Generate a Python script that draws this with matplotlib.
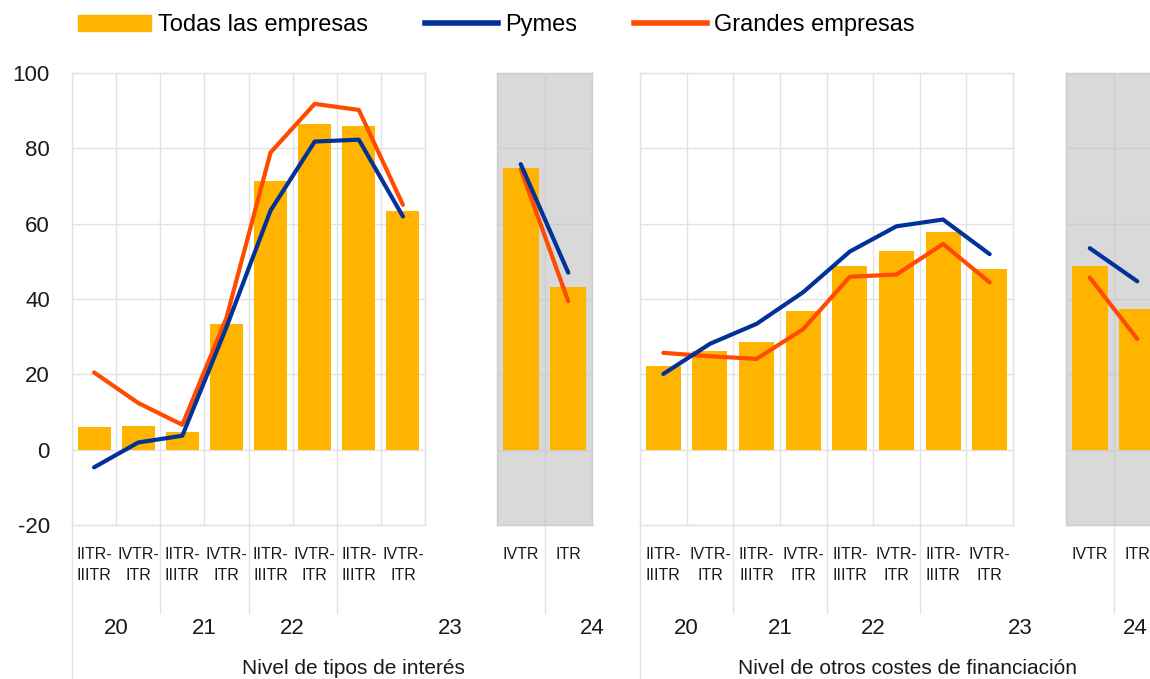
import numpy as np
import matplotlib.pyplot as plt
from matplotlib.patches import Patch
from matplotlib.lines import Line2D

plt.rcParams['font.family'] = ['Liberation Sans', 'DejaVu Sans']
plt.rcParams['axes.unicode_minus'] = False

# categorias
quarters_main = ["IITR-\nIIITR", "IVTR-\nITR"] * 4
quarters_recent = ["IVTR", "ITR"]
years_main = ["20", "21", "22"]

# nivel de tipos de interes
tipos_todas = [6.1, 6.4, 4.8, 33.4, 71.4, 86.4, 85.8, 63.4]
tipos_todas_rec = [74.9, 43.1]
tipos_pymes = [-4.7, 1.9, 3.7, 32.5, 63.5, 81.8, 82.3, 61.9]
tipos_pymes_rec = [75.8, 47.0]
tipos_grandes = [20.5, 12.4, 6.6, 35.0, 78.9, 91.8, 90.2, 65.0]
tipos_grandes_rec = [74.5, 39.4]

# nivel de otros costes de financiacion
otros_todas = [22.3, 26.3, 28.5, 36.9, 48.8, 52.8, 57.7, 48.0]
otros_todas_rec = [48.8, 37.3]
otros_pymes = [20.1, 28.1, 33.4, 41.8, 52.6, 59.3, 61.1, 51.9]
otros_pymes_rec = [53.5, 44.7]
otros_grandes = [25.7, 24.8, 24.1, 32.0, 45.9, 46.5, 54.6, 44.4]
otros_grandes_rec = [45.7, 29.4]

YELLOW = '#FFB400'
BLUE = '#003299'
ORANGE = '#FF4B00'
SHADE = '#D9D9D9'
GRID = '#E2E2E2'
TXT = '#1a1a1a'

W, H = 1150, 679
fig = plt.figure(figsize=(W / 100, H / 100), dpi=100)

top_px, bot_px = 73, 525


def px_axes(x0, x1):
    return fig.add_axes([x0 / W, 1 - bot_px / H, (x1 - x0) / W, (bot_px - top_px) / H])


def draw_group(ax, labels, todas, pymes, grandes, shaded, seps, full_sep):
    n = len(labels)
    x = np.arange(n)
    gcol = '#CDCDCD' if shaded else GRID
    ax.set_facecolor(SHADE if shaded else 'white')
    ax.bar(x, todas, width=0.75, color=YELLOW, zorder=2)
    ax.plot(x, grandes, color=ORANGE, lw=3, zorder=3, solid_capstyle='round')
    ax.plot(x, pymes, color=BLUE, lw=3, zorder=4, solid_capstyle='round')
    ax.set_xlim(-0.5, n - 0.5)
    ax.set_ylim(-20, 100)
    ax.set_yticks(np.arange(-20, 101, 20))
    ax.set_xticks(x)
    ax.set_xticklabels(labels, fontsize=11.5, linespacing=1.45, color=TXT)
    ax.set_xticks(np.arange(-0.5, n, 1), minor=True)
    ax.grid(True, which='minor', axis='x', color=gcol, lw=1, zorder=0)
    ax.grid(True, which='major', axis='y', color=gcol, lw=1, zorder=0)
    ax.tick_params(axis='x', which='both', length=0, pad=16)
    ax.tick_params(axis='y', length=0, labelleft=False)
    for s in ax.spines.values():
        s.set_color(gcol)
        s.set_linewidth(1)
    trans = ax.get_xaxis_transform()
    for sx in seps:
        ax.plot([sx, sx], [0, -0.195], color=GRID, lw=1, transform=trans, clip_on=False)
    if full_sep:
        ax.plot([-0.5, -0.5], [0, -0.36], color=GRID, lw=1, transform=trans, clip_on=False)


axA = px_axes(72, 425)
axB = px_axes(497, 592)
axC = px_axes(640, 1013)
axD = px_axes(1066, 1161)

draw_group(axA, quarters_main, tipos_todas, tipos_pymes, tipos_grandes, False, [1.5, 3.5, 5.5], True)
draw_group(axB, quarters_recent, tipos_todas_rec, tipos_pymes_rec, tipos_grandes_rec, True, [0.5], False)
draw_group(axC, quarters_main, otros_todas, otros_pymes, otros_grandes, False, [1.5, 3.5, 5.5], True)
draw_group(axD, quarters_recent, otros_todas_rec, otros_pymes_rec, otros_grandes_rec, True, [0.5], False)

axA.tick_params(axis='y', labelleft=True, labelsize=16, pad=16, labelcolor=TXT)

# etiquetas de años
year_y = -0.228
for ax, pos in [(axA, [0.5, 2.5, 4.5]), (axC, [0.5, 2.5, 4.5])]:
    for yr, p in zip(years_main, pos):
        ax.text(p, year_y, yr, transform=ax.get_xaxis_transform(), ha='center', va='center',
                fontsize=16, color=TXT)
axA.text(8.07, year_y, "23", transform=axA.get_xaxis_transform(), ha='center', va='center', fontsize=16, color=TXT)
axB.text(1.5, year_y, "24", transform=axB.get_xaxis_transform(), ha='center', va='center', fontsize=16, color=TXT)
axC.text(7.65, year_y, "23", transform=axC.get_xaxis_transform(), ha='center', va='center', fontsize=16, color=TXT)
axD.text(0.95, year_y, "24", transform=axD.get_xaxis_transform(), ha='center', va='center', fontsize=16, color=TXT)

fig.text(353 / W, 1 - 668 / H, "Nivel de tipos de interés", ha='center', va='center', fontsize=15, color=TXT)
fig.text(907 / W, 1 - 668 / H, "Nivel de otros costes de financiación", ha='center', va='center', fontsize=15, color=TXT)

handles = [Patch(color=YELLOW), Line2D([], [], color=BLUE, lw=4), Line2D([], [], color=ORANGE, lw=4)]
fig.legend(handles, ["Todas las empresas", "Pymes", "Grandes empresas"], ncol=3, frameon=False,
           loc='center left', bbox_to_anchor=(78 / W, 1 - 25 / H), fontsize=17,
           handlelength=3.1, handleheight=0.65, handletextpad=0.3, columnspacing=2.4,
           borderaxespad=0, borderpad=0)

fig.savefig('out.png', dpi=100)
